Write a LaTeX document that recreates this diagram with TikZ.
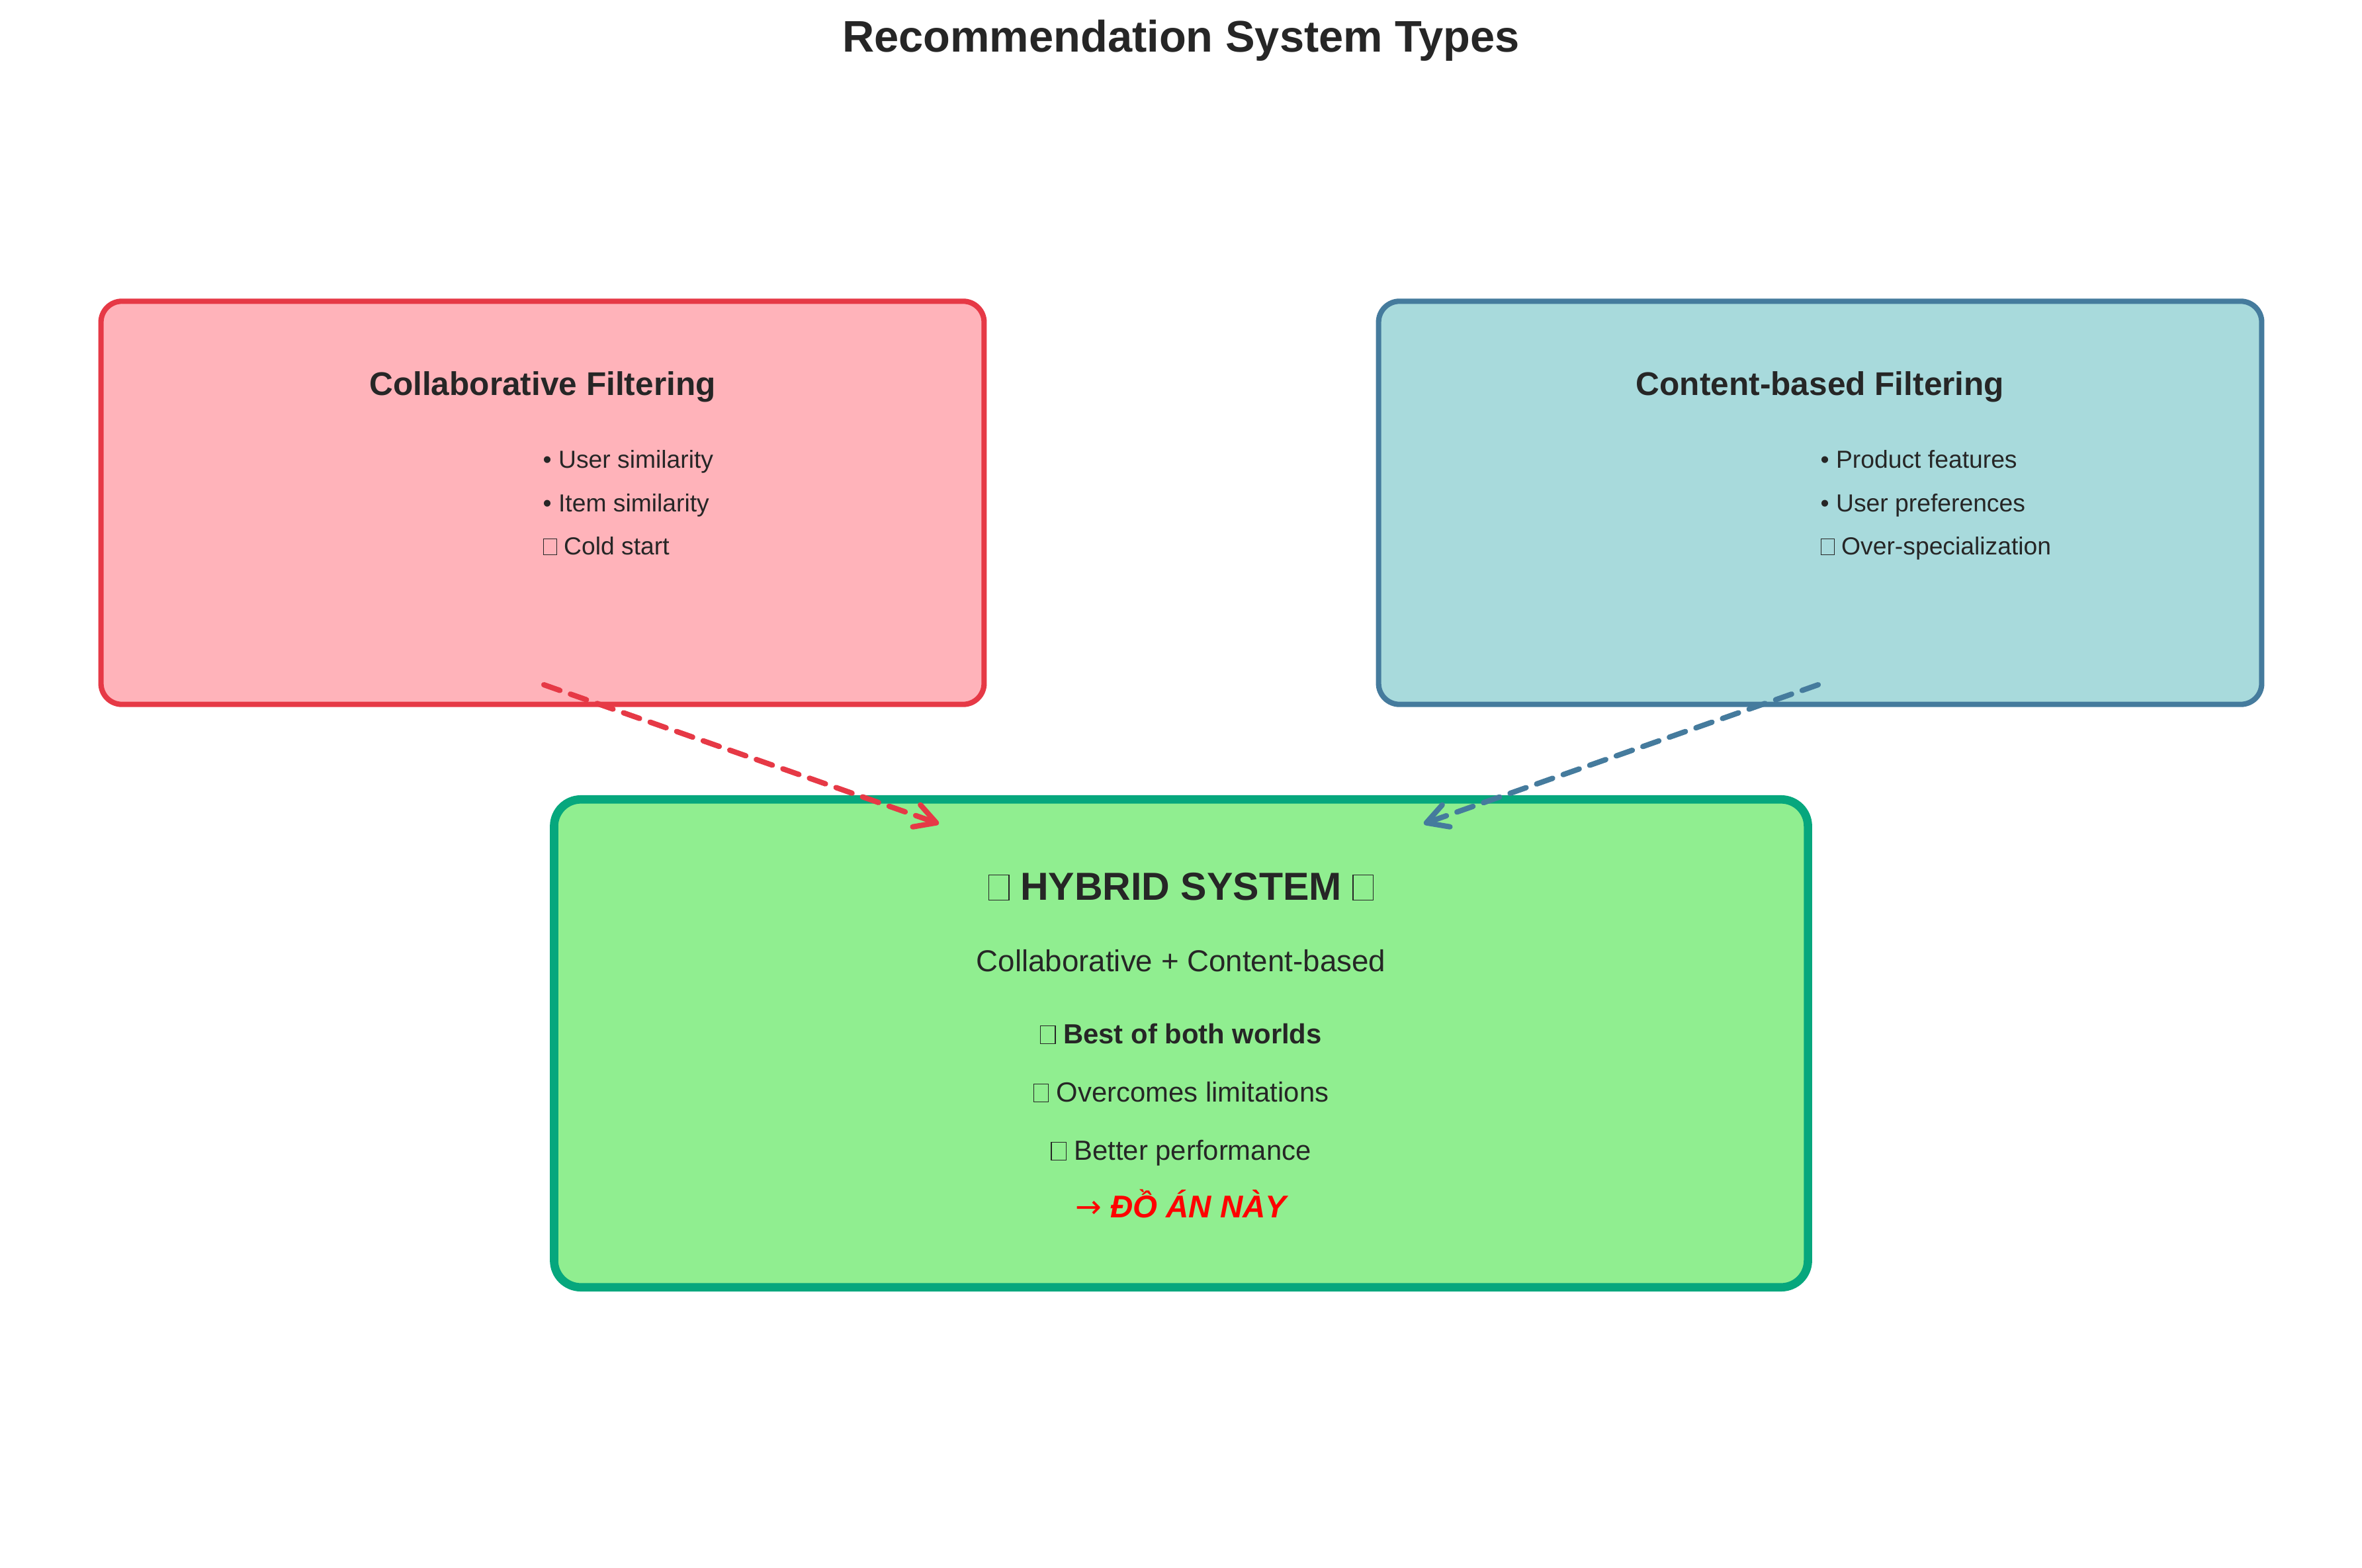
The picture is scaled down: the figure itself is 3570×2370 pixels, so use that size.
\documentclass[tikz,border=0pt]{standalone}
\usepackage{fontspec}
\setmainfont{Liberation Sans}
\newfontfamily\arrowfont{DejaVu Sans}
\usetikzlibrary{arrows.meta}

\definecolor{ink}{HTML}{262626}
\definecolor{cfline}{HTML}{E63946}
\definecolor{cffill}{HTML}{FFB3BA}
\definecolor{cbline}{HTML}{457B9D}
\definecolor{cbfill}{HTML}{A8DADC}
\definecolor{hyline}{HTML}{06A77D}
\definecolor{hyfill}{HTML}{90EE90}
\definecolor{hyred}{HTML}{FF0000}

% empty box that the picture prints for a missing glyph
\newcommand{\tofu}{{\setlength{\fboxsep}{0pt}\setlength{\fboxrule}{0.35pt}\fbox{\rule{0pt}{0.62em}\rule{0.5em}{0pt}}}}
\newcommand{\fsz}[1]{\fontsize{#1}{#1}\selectfont}

\begin{document}
\begin{tikzpicture}[x=0.01cm, y=-0.01cm,
    typebox/.style={rectangle, draw, rounded corners=9pt, line width=2.3pt,
        minimum width=13.34cm, minimum height=6.09cm},
    hybridbox/.style={rectangle, draw=hyline, fill=hyfill, rounded corners=11.5pt,
        line width=3.6pt, minimum width=18.94cm, minimum height=7.37cm},
    label/.style={inner sep=0pt, anchor=base, text=ink},
    boxtitle/.style={label, font=\fsz{14.1pt}\bfseries},
    point/.style={label, anchor=base west, font=\fsz{10.6pt}},
    feeds/.style={-{Straight Barb[length=9pt, width=10pt, round]}, line width=2.3pt,
        line cap=round, dash pattern=on 7.3pt off 4.8pt}]

\useasboundingbox (0,0) rectangle (3570,2370);

\node[label, font=\fsz{19pt}\bfseries] (title) at (1785,79) {Recommendation System Types};

% the two families
\node[typebox, draw=cfline, fill=cffill] (collab) at (820,760) {};
\node[typebox, draw=cbline, fill=cbfill] (content) at (2751,760) {};

\node[boxtitle] (collab title) at (820,597) {Collaborative Filtering};
\node[point] (collab a) at (820,707) {• User similarity};
\node[point] (collab b) at (820,773) {• Item similarity};
\node[point] (collab c) at (820,838) {\tofu\ Cold start};

\node[boxtitle] (content title) at (2751,597) {Content-based Filtering};
\node[point] (content a) at (2751,707) {• Product features};
\node[point] (content b) at (2751,773) {• User preferences};
\node[point] (content c) at (2751,838) {\tofu\ Over-specialization};

% the hybrid
\node[hybridbox] (hybrid) at (1785,1577) {};
\node[label, font=\fsz{16.8pt}\bfseries] (hybrid title) at (1785,1360) {\tofu\ HYBRID SYSTEM \tofu};
\node[label, font=\fsz{13pt}] (hybrid sum) at (1785,1468) {Collaborative + Content-based};
\node[label, font=\fsz{11.9pt}\bfseries] (hybrid a) at (1785,1577) {\tofu\ Best of both worlds};
\node[label, font=\fsz{11.9pt}] (hybrid b) at (1785,1665) {\tofu\ Overcomes limitations};
\node[label, font=\fsz{11.9pt}] (hybrid c) at (1785,1753) {\tofu\ Better performance};
\node[label, text=hyred, font=\fsz{13.5pt}\bfseries\itshape] (hybrid d) at (1785,1840) {{\arrowfont\upshape\mdseries →} ĐỒ ÁN NÀY};

\coordinate (collab out) at (822,1035);
\coordinate (content out) at (2748,1035);
\coordinate (hybrid in west) at (1419,1245);
\coordinate (hybrid in east) at (2152,1245);

\draw[feeds, cfline] (collab out) -- (hybrid in west);
\draw[feeds, cbline] (content out) -- (hybrid in east);
\end{tikzpicture}
\end{document}
